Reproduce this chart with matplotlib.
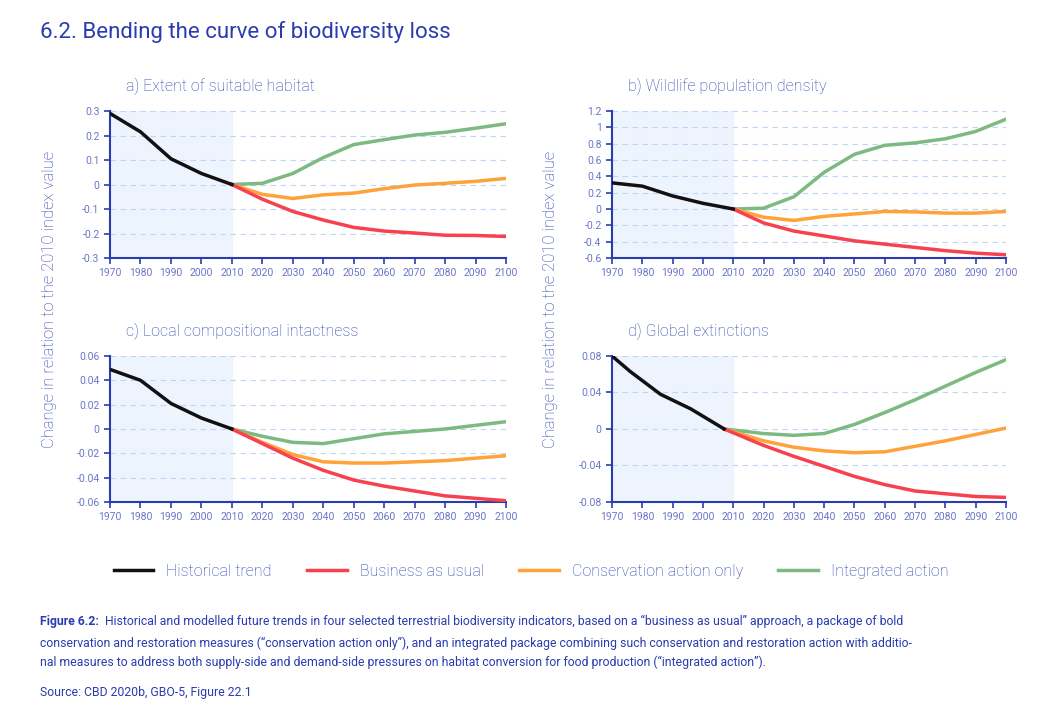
import matplotlib.pyplot as plt

plt.rcParams['font.family'] = ['Roboto', 'DejaVu Sans']

hist_years = [1970, 1980, 1990, 2000, 2010]
proj_years = [2010, 2020, 2030, 2040, 2050, 2060, 2070, 2080, 2090, 2100]

a_hist = [0.29, 0.215, 0.105, 0.045, 0]
a_bau = [0, -0.06, -0.11, -0.145, -0.175, -0.19, -0.198, -0.207, -0.208, -0.212]
a_cons = [0, -0.04, -0.057, -0.042, -0.035, -0.017, -0.002, 0.005, 0.013, 0.025]
a_int = [0, 0.005, 0.045, 0.11, 0.163, 0.183, 0.202, 0.213, 0.23, 0.248]

b_hist = [0.32, 0.28, 0.16, 0.07, 0]
b_bau = [0, -0.17, -0.27, -0.33, -0.39, -0.43, -0.47, -0.51, -0.54, -0.56]
b_cons = [0, -0.1, -0.14, -0.09, -0.06, -0.03, -0.035, -0.05, -0.05, -0.03]
b_int = [0, 0.01, 0.15, 0.45, 0.67, 0.78, 0.81, 0.86, 0.95, 1.1]

c_hist = [0.049, 0.04, 0.021, 0.009, 0]
c_bau = [0, -0.012, -0.024, -0.034, -0.042, -0.047, -0.051, -0.055, -0.057, -0.059]
c_cons = [0, -0.011, -0.021, -0.027, -0.028, -0.028, -0.027, -0.026, -0.024, -0.022]
c_int = [0, -0.006, -0.011, -0.012, -0.008, -0.004, -0.002, 0, 0.003, 0.006]

d_hist_years = [1970, 1976, 1986, 1996, 2007]
d_proj_years = [2007, 2020, 2030, 2040, 2050, 2060, 2070, 2080, 2090, 2100]
d_hist = [0.08, 0.063, 0.038, 0.022, 0]
d_bau = [0, -0.018, -0.030, -0.041, -0.052, -0.061, -0.068, -0.071, -0.074, -0.075]
d_cons = [0, -0.013, -0.020, -0.024, -0.026, -0.025, -0.019, -0.013, -0.006, 0.001]
d_int = [0, -0.005, -0.007, -0.005, 0.005, 0.018, 0.032, 0.047, 0.062, 0.076]

BLUE = '#2b3cb0'
TICK = '#6b76c8'
C_HIST, C_BAU, C_CONS, C_INT = '#111111', '#f7414f', '#ffa23a', '#7dba82'

panels = [
    ('a) Extent of suitable habitat', [0.1036, 0.6376, 0.373, 0.2065],
     hist_years, proj_years, a_hist, a_bau, a_cons, a_int,
     [-0.3, -0.2, -0.1, 0, 0.1, 0.2, 0.3], ['-0.3', '-0.2', '-0.1', '0', '0.1', '0.2', '0.3']),
    ('b) Wildlife population density', [0.5763, 0.6376, 0.371, 0.2065],
     hist_years, proj_years, b_hist, b_bau, b_cons, b_int,
     [-0.6, -0.4, -0.2, 0, 0.2, 0.4, 0.6, 0.8, 1.0, 1.2],
     ['-0.6', '-0.4', '-0.2', '0', '0.2', '0.4', '0.6', '0.8', '1', '1.2']),
    ('c) Local compositional intactness', [0.1036, 0.295, 0.373, 0.205],
     hist_years, proj_years, c_hist, c_bau, c_cons, c_int,
     [-0.06, -0.04, -0.02, 0, 0.02, 0.04, 0.06],
     ['-0.06', '-0.04', '-0.02', '0', '0.02', '0.04', '0.06']),
    ('d) Global extinctions', [0.5763, 0.295, 0.371, 0.205],
     d_hist_years, d_proj_years, d_hist, d_bau, d_cons, d_int,
     [-0.08, -0.04, 0, 0.04, 0.08], ['-0.08', '-0.04', '0', '0.04', '0.08']),
]

fig = plt.figure(figsize=(10.62, 7.12), dpi=100)
fig.text(0.038, 0.955, '6.2. Bending the curve of biodiversity loss', color=BLUE,
         fontsize=16, va='center')

for title, pos, hx, px, hy, bau, cons, integ, yt, ytl in panels:
    ax = fig.add_axes(pos)
    ax.axvspan(1970, 2010, color='#eef4fd', zorder=0)
    for y in yt:
        ax.axhline(y, color='#bcd6f6', lw=0.8, ls=(0, (5, 4)), zorder=1)
    ax.plot(px, integ, color=C_INT, lw=2.5, zorder=3)
    ax.plot(px, cons, color=C_CONS, lw=2.5, zorder=3)
    ax.plot(px, bau, color=C_BAU, lw=2.5, zorder=4)
    ax.plot(hx, hy, color=C_HIST, lw=2.5, zorder=5)
    ax.set_xlim(1970, 2100)
    ax.set_ylim(yt[0], yt[-1])
    ax.set_xticks(range(1970, 2101, 10))
    ax.set_yticks(yt)
    ax.set_yticklabels(ytl)
    for s in ['top', 'right']:
        ax.spines[s].set_visible(False)
    for s in ['left', 'bottom']:
        ax.spines[s].set_color(BLUE)
        ax.spines[s].set_linewidth(1.5)
    ax.tick_params(colors=BLUE, labelcolor=TICK, labelsize=7.5, length=4, width=1.2)
    ax.set_title(title, loc='left', x=0.04, color=BLUE, fontsize=11.5,
                 fontweight='light', pad=14)

for x in [0.047, 0.518]:
    fig.text(x, 0.58, 'Change in relation to the 2010 index value', rotation=90,
             color=BLUE, fontsize=12, fontweight='light', ha='center', va='center')

handles = [plt.Line2D([], [], color=c, lw=2.5) for c in (C_HIST, C_BAU, C_CONS, C_INT)]
fig.legend(handles, ['Historical trend', 'Business as usual', 'Conservation action only',
                     'Integrated action'], loc='center', bbox_to_anchor=(0.5, 0.198),
           ncol=4, frameon=False, fontsize=11.5, labelcolor=BLUE, handlelength=2.5,
           columnspacing=2.2, prop={'weight': 'light', 'size': 11.5})

fig.text(0.038, 0.127, 'Figure 6.2:', color=BLUE, fontsize=8.8, fontweight='bold',
         va='center')
fig.text(0.0985, 0.127,
         'Historical and modelled future trends in four selected terrestrial biodiversity indicators, '
         'based on a \u201cbusiness as usual\u201d approach, a package of bold',
         color=BLUE, fontsize=8.8, va='center')
fig.text(0.038, 0.083,
         'conservation and restoration measures (\u201cconservation action only\u201d), and an integrated '
         'package combining such conservation and restoration action with additio-\n'
         'nal measures to address both supply-side and demand-side pressures on habitat conversion '
         'for food production (\u201cintegrated action\u201d).',
         color=BLUE, fontsize=8.8, va='center', linespacing=1.6)
fig.text(0.038, 0.027, 'Source: CBD 2020b, GBO-5, Figure 22.1', color=BLUE, fontsize=8.8,
         va='center')

fig.savefig('out.png', dpi=100)
